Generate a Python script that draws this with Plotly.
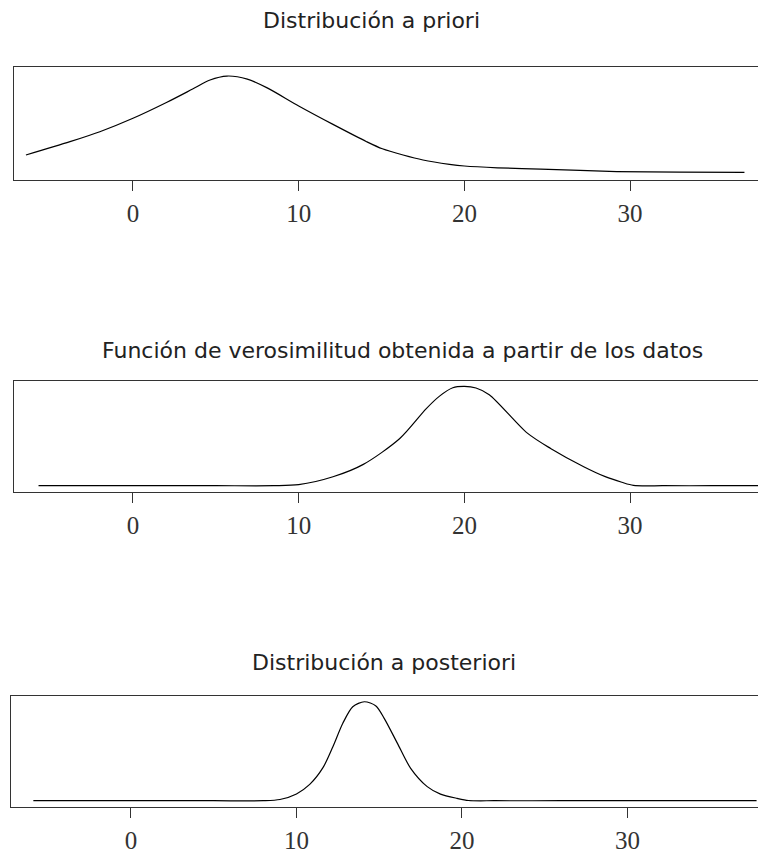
import plotly.graph_objects as go

# ---- data (relative density heights) ----
prior_x = [-6.46, -3.8, -2.0, 0.0, 2.05, 3.6, 4.65, 5.67, 6.9, 8.1, 10.0, 12.07, 14.1,
           15.05, 16.3, 17.5, 19.1, 20.0, 22.0, 24.6, 29.2, 33.0, 36.9]
prior_y = [0.221, 0.339, 0.427, 0.546, 0.688, 0.805, 0.885, 0.920, 0.893, 0.815, 0.655,
           0.492, 0.339, 0.276, 0.221, 0.177, 0.139, 0.124, 0.108, 0.096, 0.075, 0.069, 0.068]

lik_x = [-5.7, 0.0, 5.0, 8.5, 10.0, 12.07, 13.9, 16.1, 17.7, 18.5, 19.3, 20.0, 20.7, 21.5,
         23.8, 25.2, 27.2, 28.5, 29.5, 30.2, 32.0, 35.0, 37.8]
lik_y = [0.059, 0.059, 0.059, 0.059, 0.068, 0.139, 0.250, 0.482, 0.750, 0.862, 0.937,
         0.949, 0.935, 0.875, 0.530, 0.393, 0.229, 0.140, 0.090, 0.062, 0.059, 0.059, 0.059]

post_x = [-5.9, 0.0, 5.0, 8.0, 9.0, 10.0, 10.8, 11.6, 12.2, 12.8, 13.4, 14.1, 14.8, 15.3,
          16.1, 16.9, 17.9, 18.7, 19.7, 20.4, 22.0, 26.0, 32.0, 37.8]
post_y = [0.059, 0.059, 0.059, 0.059, 0.070, 0.120, 0.205, 0.355, 0.543, 0.753, 0.901,
          0.946, 0.908, 0.797, 0.573, 0.349, 0.185, 0.118, 0.080, 0.061, 0.059, 0.059,
          0.059, 0.059]

titles = ["Distribución a priori",
          "Función de verosimilitud obtenida a partir de los datos",
          "Distribución a posteriori"]
tick_vals = [0, 10, 20, 30]
tick_text = ["0", "10", "20", "30"]

# page body adds an 8px margin, so the figure is drawn 8px in from the corner
OFF = 8
W, H = 766 - OFF, 856 - OFF

def fx(p):
    return (p - OFF) / W

def fy(p):
    return 1 - (p - OFF) / H

panels = [
    # (x, y, x domain px, y top px, y bottom px, x range)
    (prior_x, prior_y, (14, 766), 67, 180, (-7.18, 38.2)),
    (lik_x, lik_y, (14, 766), 380.7, 492.3, (-7.18, 38.2)),
    (post_x, post_y, (11, 766), 695.7, 807.3, (-7.25, 38.37)),
]
title_pos = [(371, 20), (402, 350), (384, 662)]

fig = go.Figure()
layout = dict(width=W, height=H, margin=dict(l=0, r=0, t=0, b=0),
              paper_bgcolor="white", plot_bgcolor="white", showlegend=False)

annotations = []
for i, (xs, ys, (xl, xr), yt, yb, xrng) in enumerate(panels):
    n = "" if i == 0 else str(i + 1)
    fig.add_trace(go.Scatter(x=xs, y=ys, mode="lines",
                             line=dict(color="black", width=1.2, shape="spline", smoothing=0.8),
                             xaxis="x" + n, yaxis="y" + n, hoverinfo="skip"))
    layout["xaxis" + n] = dict(domain=[max(fx(xl), 0), min(fx(xr), 1)], range=list(xrng),
                               anchor="y" + n, showgrid=False, zeroline=False,
                               showline=True, mirror=True, linecolor="#333", linewidth=1.2,
                               ticks="outside", ticklen=10, tickcolor="#333", tickwidth=1.2,
                               tickvals=tick_vals, ticktext=tick_text,
                               ticklabelstandoff=1,
                               tickfont=dict(family="Liberation Serif", size=25, color="#333"))
    layout["yaxis" + n] = dict(domain=[fy(yb), fy(yt)], range=[0, 1], anchor="x" + n,
                               showgrid=False, zeroline=False, showticklabels=False,
                               showline=True, mirror=False, linecolor="#333", linewidth=1.2,
                               ticks="")
    tx, ty = title_pos[i]
    annotations.append(dict(text=titles[i], x=fx(tx), y=fy(ty), xref="paper", yref="paper",
                            xanchor="center", yanchor="middle", showarrow=False,
                            font=dict(family="DejaVu Sans", size=22, color="#222")))

layout["annotations"] = annotations
fig.update_layout(**layout)
fig.write_html("out.html")
